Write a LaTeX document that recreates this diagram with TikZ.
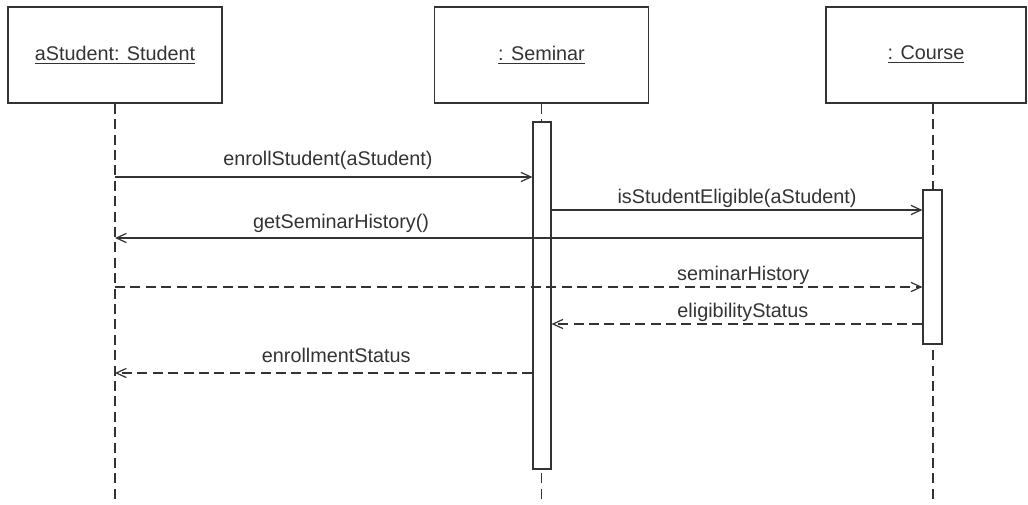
\documentclass[tikz,border=0pt]{standalone}
\usepackage{fontspec}
\setmainfont{Liberation Sans}
\usetikzlibrary{arrows.meta, positioning}

\begin{document}
\begin{tikzpicture}[
    x=0.5pt, y=-0.5pt,
    font=\fontsize{9.9}{12}\selectfont,
    every node/.style={text=black!80},
    objeto/.style={draw=black!80, line width=0.7pt, minimum width=107pt,
                   minimum height=48pt, inner sep=0pt},
    activo/.style={draw=black!80, fill=white, line width=0.6pt,
                   minimum width=9pt, inner sep=0pt},
    vida/.style={draw=black!80, line width=0.6pt, dash pattern=on 5pt off 2.7pt},
    llamada/.style={draw=black!80, line width=0.6pt,
                    -{Straight Barb[length=5pt, width=4.6pt]}},
    retorno/.style={llamada, dash pattern=on 5pt off 2.7pt}
  ]
  \useasboundingbox (0,0) rectangle (1028,504);

  % --- Objetos ---
  \node[objeto] (stu) at (115,55) {\underline{aStudent: Student}};
  \node[objeto] (sem) at (541.5,55) {\underline{: Seminar}};
  \node[objeto, minimum width=100pt] (crs) at (926,55) {\underline{: Course}};

  % --- Lineas de vida ---
  \coordinate (crsTop) at ([xshift=3.5pt]crs.south);
  \coordinate (fondo) at (0,504);
  \draw[vida] (stu.south) -- (stu.south |- fondo);
  \draw[vida] (sem.south) -- (sem.south |- fondo);
  \draw[vida] (crsTop) -- (crsTop |- fondo);

  % --- Activaciones ---
  \node[activo, minimum height=173.5pt] (semAct) at (542,295.5) {};
  \node[activo, minimum height=77pt, minimum width=9.5pt] (crsAct) at (932.5,267) {};

  % --- Mensajes ---
  \coordinate (m1) at (0,177);
  \coordinate (m2) at (0,210);
  \coordinate (m3) at (0,238);
  \coordinate (m4) at (0,287);
  \coordinate (m5) at (0,324);
  \coordinate (m6) at (0,373);

  \draw[llamada] (stu |- m1) -- (semAct.west |- m1)
    node[pos=0.51, anchor=base, yshift=6pt] {enrollStudent(aStudent)};
  \draw[llamada] (semAct.east |- m2) -- (crsAct.west |- m2)
    node[midway, anchor=base, yshift=3.5pt] {isStudentEligible(aStudent)};
  \draw[llamada] (crsAct.west |- m3) -- (stu |- m3)
    node[pos=0.72, anchor=base, yshift=5pt] {getSeminarHistory()};
  \draw[retorno] (stu |- m4) -- (crsAct.west |- m4)
    node[pos=0.778, anchor=base, yshift=3.5pt] {seminarHistory};
  \draw[retorno] (crsAct.west |- m5) -- (semAct.east |- m5)
    node[pos=0.484, anchor=base, yshift=3.5pt] {eligibilityStatus};
  \draw[retorno] (semAct.west |- m6) -- (stu |- m6)
    node[pos=0.47, anchor=base, yshift=5.5pt] {enrollmentStatus};
\end{tikzpicture}
\end{document}
